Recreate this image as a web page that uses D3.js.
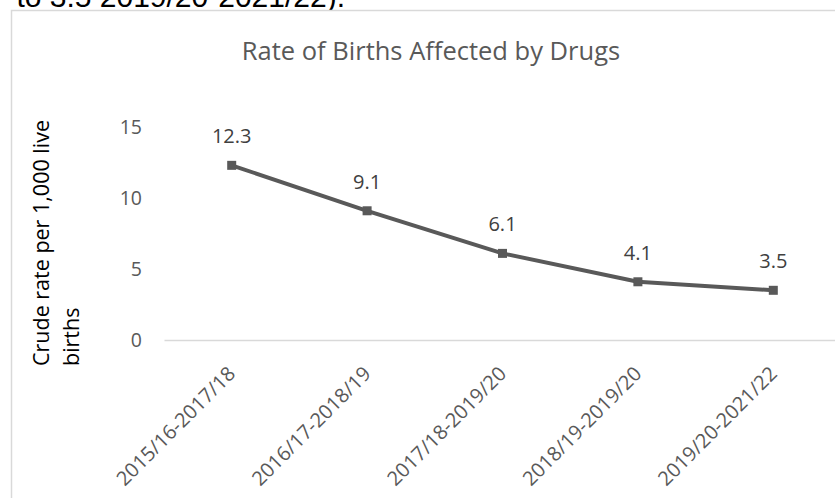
<!DOCTYPE html>
<html><head><meta charset="utf-8">
<script src="https://cdn.jsdelivr.net/npm/d3@7"></script>
<style>body{margin:0;background:#fff;}svg{display:block;}</style>
</head><body>
<script>
const categories = ["2015/16-2017/18","2016/17-2018/19","2017/18-2019/20","2018/19-2019/20","2019/20-2021/22"];
const values = [12.3, 9.1, 6.1, 4.1, 3.5];
const yTicks = [0, 5, 10, 15];
const title = "Rate of Births Affected by Drugs";
const yTitleLines = ["Crude rate per 1,000 live", "births"];
const topText = "to 3.5 2019/20-2021/22).";

const W = 835, H = 498;
const svg = d3.select("body").append("svg").attr("width", W).attr("height", H);
const grey = "#595959";
const font = "'Open Sans', sans-serif";

// clipped text from document above
svg.append("text").attr("x", 345).attr("y", 7).attr("text-anchor", "end")
  .attr("font-family", "'Liberation Sans', Arial, sans-serif").attr("font-size", 30)
  .attr("fill", "#000").text(topText);

// chart frame
svg.append("rect").attr("x", 11.5).attr("y", 10.5).attr("width", 900).attr("height", 600)
  .attr("fill", "#fff").attr("stroke", "#d9d9d9").attr("stroke-width", 1.5);

const x = d3.scaleBand().domain(categories).range([164, 841]);
const y = d3.scaleLinear().domain([0, 15]).range([340, 127]);

// title
svg.append("text").attr("x", 431).attr("y", 60).attr("text-anchor", "middle")
  .attr("font-family", font).attr("font-size", 25.5).attr("fill", grey).text(title);

// y axis title
const yt = [[49, 366], [79, 366]];
yTitleLines.forEach((t, i) => {
  svg.append("text").attr("transform", `translate(${yt[i][0]},${yt[i][1]}) rotate(-90)`)
    .attr("text-anchor", "start").attr("font-family", font).attr("font-size", 21.5)
    .attr("fill", "#000").text(t);
});

// y tick labels
const yAxis = d3.axisLeft(y).tickValues(yTicks).tickSize(0).tickPadding(0);
const gy = svg.append("g").attr("transform", "translate(142,0)").call(yAxis);
gy.select(".domain").remove();
gy.selectAll("text").attr("font-family", font).attr("font-size", 19.5).attr("fill", grey);

// x axis
const xAxis = d3.axisBottom(x).tickSize(0).tickPadding(0);
const gx = svg.append("g").attr("transform", "translate(0,340)").call(xAxis);
gx.select(".domain").attr("stroke", "#d9d9d9").attr("stroke-width", 1.5);
gx.selectAll("text")
  .attr("font-family", font).attr("font-size", 20).attr("fill", grey)
  .attr("text-anchor", "end").attr("dy", null).attr("y", null)
  .attr("transform", "translate(5,35) rotate(-45)");

const cx = d => x(d) + x.bandwidth() / 2;

// line
const line = d3.line().x((d, i) => cx(categories[i])).y(d => y(d));
svg.append("path").datum(values).attr("d", line).attr("fill", "none")
  .attr("stroke", grey).attr("stroke-width", 4).attr("stroke-linejoin", "round");

// markers
svg.selectAll("rect.mk").data(values).enter().append("rect").attr("class", "mk")
  .attr("x", (d, i) => cx(categories[i]) - 4.5).attr("y", d => y(d) - 4.5)
  .attr("width", 9).attr("height", 9).attr("fill", grey);

// data labels
svg.selectAll("text.dl").data(values).enter().append("text").attr("class", "dl")
  .attr("x", (d, i) => cx(categories[i])).attr("y", d => y(d) - 22)
  .attr("text-anchor", "middle").attr("font-family", font).attr("font-size", 20)
  .attr("fill", "#404040").text(d => d.toFixed(1));
</script>
</body></html>
